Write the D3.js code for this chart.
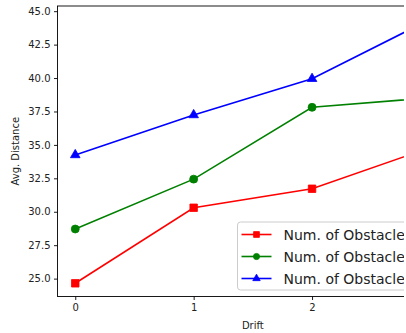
<!DOCTYPE html>
<html>
<head>
<meta charset="utf-8">
<script src="https://cdn.jsdelivr.net/npm/d3@7/dist/d3.min.js"></script>
<style>
  html, body { margin: 0; padding: 0; background: #fff; }
  svg { display: block; font-family: "DejaVu Sans", sans-serif; }
</style>
</head>
<body>
<svg id="chart" width="406" height="333"></svg>
<script>
// ---- data ----
const drift = [0, 1, 2, 3];
const xTicks = [0, 1, 2, 3];
const yTicks = [25.0, 27.5, 30.0, 32.5, 35.0, 37.5, 40.0, 42.5, 45.0];
const seriesRed = [24.65, 30.3, 31.72, 34.8];
const seriesGreen = [28.71, 32.44, 37.81, 38.53];
const seriesBlue = [34.25, 37.24, 39.95, 44.4];
const legendLabels = ["Num. of Obstacles = 10", "Num. of Obstacles = 20", "Num. of Obstacles = 30"];
const xLabel = "Drift";
const yLabel = "Avg. Distance";

(function () {
const series = [
  { values: seriesRed, color: "#ff0000", marker: d3.symbolSquare, label: legendLabels[0] },
  { values: seriesGreen, color: "#008000", marker: d3.symbolCircle, label: legendLabels[1] },
  { values: seriesBlue, color: "#0000ff", marker: d3.symbolTriangle, label: legendLabels[2] }
];

const svg = d3.select("#chart");
const H = 333;
const clipW = 404;

svg.append("defs").append("clipPath").attr("id", "figclip")
  .append("rect").attr("x", 0).attr("y", 0).attr("width", clipW).attr("height", H);

const root = svg.append("g").attr("clip-path", "url(#figclip)");

// axes box
const axLeft = 57.5, axTop = 6, axBottom = 296.5;
const xPad = 0.05 * (d3.max(drift) - d3.min(drift));
const xDomain = [d3.min(drift) - xPad, d3.max(drift) + xPad];
const pxPerX = 118.4;
const axRight = axLeft + (xDomain[1] - xDomain[0]) * pxPerX;

const allY = [].concat(seriesRed, seriesGreen, seriesBlue);
const yMin = d3.min(allY), yMax = d3.max(allY);
const yPad = 0.05 * (yMax - yMin);

const x = d3.scaleLinear().domain(xDomain).range([axLeft, axRight]);
const y = d3.scaleLinear().domain([yMin - yPad, yMax + yPad]).range([axBottom, axTop]);

const symSize = m => m === d3.symbolTriangle ? 40 : (m === d3.symbolSquare ? 56 : 50);

// lines & markers
const plot = root.append("g");
const line = d3.line().x((d, i) => x(drift[i])).y(d => y(d));
series.forEach(s => {
  plot.append("path")
    .attr("d", line(s.values))
    .attr("fill", "none")
    .attr("stroke", s.color)
    .attr("stroke-width", 1.6);
  plot.selectAll(null).data(s.values).enter().append("path")
    .attr("d", d3.symbol().type(s.marker).size(symSize(s.marker)))
    .attr("transform", (d, i) => `translate(${x(drift[i])},${y(d)})`)
    .attr("fill", s.color)
    .attr("stroke", s.color)
    .attr("stroke-width", 0.8);
});

// axes
const xAxis = d3.axisBottom(x).tickValues(xTicks).tickFormat(d3.format("d")).tickSize(3.5).tickPadding(3.5);
const yAxis = d3.axisLeft(y).tickValues(yTicks).tickFormat(d3.format(".1f")).tickSize(3.5).tickPadding(3.5);

const gx = root.append("g").attr("transform", `translate(0,${axBottom})`).call(xAxis);
const gy = root.append("g").attr("transform", `translate(${axLeft},0)`).call(yAxis);
[gx, gy].forEach(g => {
  g.select(".domain").remove();
  g.selectAll(".tick line").attr("stroke", "#000").attr("stroke-width", 0.9);
  g.selectAll(".tick text").attr("fill", "#222").attr("font-size", 10).attr("font-family", "DejaVu Sans, sans-serif");
});

// spines
root.append("rect")
  .attr("x", axLeft).attr("y", axTop)
  .attr("width", axRight - axLeft).attr("height", axBottom - axTop)
  .attr("fill", "none").attr("stroke", "#000").attr("stroke-width", 0.9);

// axis labels
root.append("text")
  .attr("x", (axLeft + axRight) / 2).attr("y", 329)
  .attr("text-anchor", "middle").attr("font-size", 10).attr("fill", "#222")
  .text(xLabel);
root.append("text")
  .attr("transform", `translate(18.5,${(axTop + axBottom) / 2}) rotate(-90)`)
  .attr("text-anchor", "middle").attr("font-size", 10).attr("fill", "#222")
  .text(yLabel);

// legend
const lg = root.append("g").attr("transform", "translate(237.5,222)");
lg.append("rect")
  .attr("x", 0).attr("y", 0).attr("width", 240).attr("height", 68)
  .attr("rx", 3).attr("ry", 3)
  .attr("fill", "#fff").attr("fill-opacity", 0.8)
  .attr("stroke", "#cccccc").attr("stroke-width", 1);
series.forEach((s, i) => {
  const cy = 12.5 + i * 22;
  lg.append("line").attr("x1", 4).attr("x2", 34).attr("y1", cy).attr("y2", cy)
    .attr("stroke", s.color).attr("stroke-width", 1.6);
  lg.append("path").attr("d", d3.symbol().type(s.marker).size(symSize(s.marker) * 0.6))
    .attr("transform", `translate(19,${cy})`)
    .attr("fill", s.color).attr("stroke", s.color).attr("stroke-width", 0.8);
  lg.append("text").attr("x", 46).attr("y", cy + 5)
    .attr("font-size", 14).attr("fill", "#222")
    .text(s.label);
});
})();
</script>
</body>
</html>
